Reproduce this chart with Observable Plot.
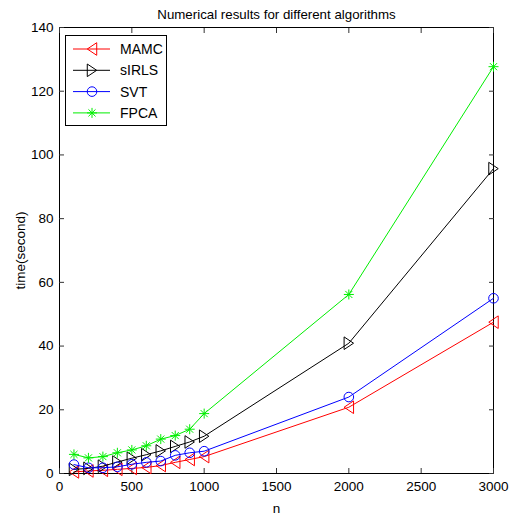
<!DOCTYPE html>
<html>
<head>
<meta charset="utf-8">
<script src="https://cdn.jsdelivr.net/npm/d3@7"></script>
<script src="https://cdn.jsdelivr.net/npm/@observablehq/plot@0.6"></script>
<style>
  html, body { margin: 0; padding: 0; background: #fff; }
  #chart { position: relative; width: 513px; height: 522px; }
</style>
</head>
<body>
<div id="chart"></div>
<script>
const title = "Numerical results for different algorithms";
const xLabel = "n";
const yLabel = "time(second)";
const nValues = [100, 200, 300, 400, 500, 600, 700, 800, 900, 1000, 2000, 3000];
const seriesNames = ["MAMC", "sIRLS", "SVT", "FPCA"];
const mamc  = [0.5, 0.8, 1.0, 1.3, 1.6, 1.9, 2.5, 3.5, 4.4, 5.3, 20.8, 47.5];
const sirls = [1.3, 1.6, 2.3, 3.6, 4.8, 5.9, 7.1, 8.5, 9.9, 11.7, 40.9, 95.7];
const svt   = [2.8, 1.8, 1.8, 2.1, 2.9, 3.5, 3.9, 5.7, 6.5, 7.0, 24.0, 55.0];
const fpca  = [6.0, 4.9, 5.3, 6.5, 7.4, 8.7, 10.8, 11.9, 13.9, 18.8, 56.2, 127.7];
const xTicks = [0, 500, 1000, 1500, 2000, 2500, 3000];
const yTicks = [0, 20, 40, 60, 80, 100, 120, 140];

const colors = {MAMC: "#ff0000", sIRLS: "#000000", SVT: "#0000ff", FPCA: "#00ee00"};

// custom marker shapes (MATLAB-like)
const triLeft = {draw(ctx, size) { const r = Math.sqrt(size / Math.PI);
  ctx.moveTo(-r * 0.75, 0); ctx.lineTo(r * 0.75, -r); ctx.lineTo(r * 0.75, r); ctx.closePath(); }};
const triRight = {draw(ctx, size) { const r = Math.sqrt(size / Math.PI);
  ctx.moveTo(r * 0.75, 0); ctx.lineTo(-r * 0.75, -r); ctx.lineTo(-r * 0.75, r); ctx.closePath(); }};
const circ = {draw(ctx, size) { const r = Math.sqrt(size / Math.PI);
  ctx.moveTo(r, 0); ctx.arc(0, 0, r, 0, 2 * Math.PI); }};
const star = {draw(ctx, size) { const r = Math.sqrt(size / Math.PI);
  const d = r * Math.SQRT1_2;
  ctx.moveTo(-r, 0); ctx.lineTo(r, 0); ctx.moveTo(0, -r); ctx.lineTo(0, r);
  ctx.moveTo(-d, -d); ctx.lineTo(d, d); ctx.moveTo(-d, d); ctx.lineTo(d, -d); }};
const symbols = {MAMC: triLeft, sIRLS: triRight, SVT: circ, FPCA: star};
const sizes = {MAMC: 6.3, sIRLS: 6.3, SVT: 4.8, FPCA: 5};

const valuesBy = {MAMC: mamc, sIRLS: sirls, SVT: svt, FPCA: fpca};
const data = seriesNames.flatMap(s => nValues.map((n, i) => ({series: s, n, t: valuesBy[s][i]})));

const font = "'Liberation Sans', Arial, sans-serif";
const fmt = d => String(d);

const marks = [
  Plot.frame({stroke: "#000", strokeWidth: 1}),
  // inward ticks on all four sides
  Plot.axisX({ticks: xTicks, anchor: "bottom", tickSize: -5, text: null, label: null, stroke: "#333"}),
  Plot.axisX({ticks: xTicks, anchor: "top", tickSize: -5, text: null, label: null, stroke: "#333"}),
  Plot.axisY({ticks: yTicks, anchor: "left", tickSize: -5, text: null, label: null, stroke: "#333"}),
  Plot.axisY({ticks: yTicks, anchor: "right", tickSize: -5, text: null, label: null, stroke: "#333"}),
  // labels
  Plot.axisX({ticks: xTicks, anchor: "bottom", tickSize: 0, tickPadding: 8, tickFormat: fmt, label: xLabel,
    labelAnchor: "center", labelOffset: 39, labelArrow: "none", fontSize: 13.5}),
  Plot.axisY({ticks: yTicks, anchor: "left", tickSize: 0, tickPadding: 6, tickFormat: fmt, label: yLabel,
    labelAnchor: "center", labelOffset: 44, labelArrow: "none", fontSize: 13.5}),
  Plot.text([title], {frameAnchor: "top", dy: -18, fontSize: 13.3, fill: "#000"})
];
for (const s of seriesNames) {
  const d = data.filter(e => e.series === s);
  marks.push(Plot.line(d, {x: "n", y: "t", stroke: colors[s], strokeWidth: 1}));
  marks.push(Plot.dot(d, {x: "n", y: "t", symbol: symbols[s], r: sizes[s], stroke: colors[s], fill: "none", strokeWidth: 1}));
}

const chart = Plot.plot({
  width: 513,
  height: 522,
  marginLeft: 59,
  marginRight: 20,
  marginTop: 27,
  marginBottom: 49,
  style: {fontFamily: font, fontSize: "13px", color: "#000", background: "#fff"},
  x: {domain: [0, 3000]},
  y: {domain: [0, 140]},
  marks
});
document.getElementById("chart").appendChild(chart);

// legend box inside the plot (MATLAB style, upper-left)
const svg = d3.select(chart);
const lg = svg.append("g").attr("font-family", font).attr("font-size", 14).attr("text-anchor", "start");
lg.append("rect").attr("x", 65.5).attr("y", 35.5).attr("width", 101).attr("height", 90)
  .attr("fill", "#fff").attr("stroke", "#000");
seriesNames.forEach((s, i) => {
  const y = 49 + i * 21.3;
  lg.append("line").attr("x1", 73).attr("x2", 110).attr("y1", y).attr("y2", y)
    .attr("stroke", colors[s]).attr("stroke-width", 1);
  lg.append("path").attr("transform", `translate(92,${y})`)
    .attr("d", d3.symbol(symbols[s], Math.PI * sizes[s] * sizes[s])())
    .attr("fill", "none").attr("stroke", colors[s]);
  lg.append("text").attr("x", 120).attr("y", y).attr("dy", "0.36em").attr("fill", "#000").text(s);
});
</script>
</body>
</html>
